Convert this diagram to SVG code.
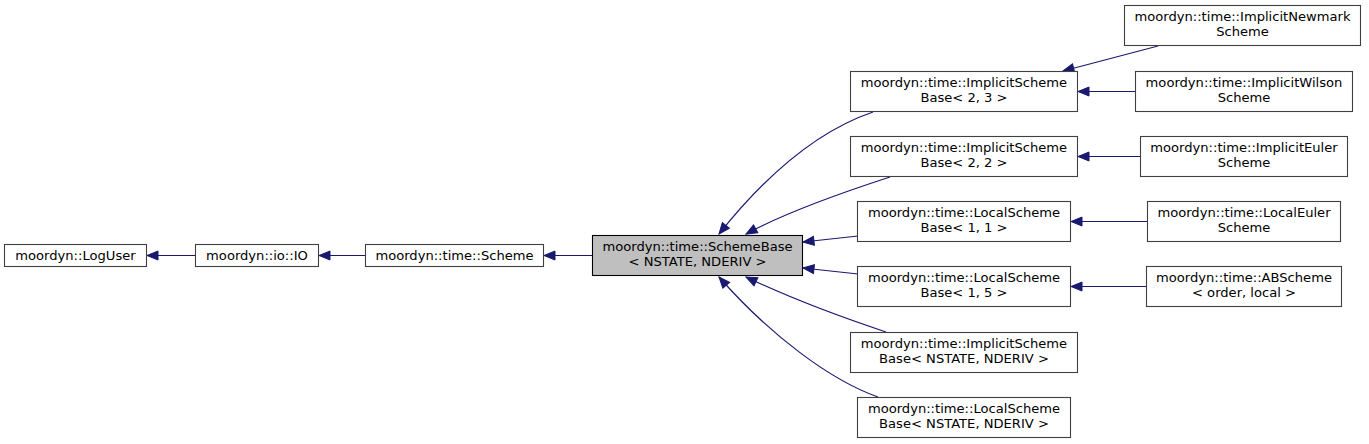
<svg xmlns="http://www.w3.org/2000/svg" width="1369" height="444" viewBox="0 0 1369 444">
<style>
.n rect{fill:#fff;stroke:#404040;stroke-width:1.1}
.n.main rect{fill:#bfbfbf;stroke:#000}
.n text{font-family:"DejaVu Sans","Liberation Sans",sans-serif;font-size:13.1px;fill:#000;text-anchor:middle}
#edges path{fill:none;stroke:#191970;stroke-width:1.2;marker-end:url(#ah)}
</style>
<defs>
<marker id="ah" markerUnits="userSpaceOnUse" markerWidth="14" markerHeight="12" refX="11" refY="5" orient="auto" overflow="visible">
<path d="M0,0.5 L11,5 L0,9.5 Z" fill="#191970" stroke="#191970" stroke-width="1"/>
</marker>
</defs>
<rect width="1369" height="444" fill="#fff"/>
<g id="edges">
<path d="M195,255.5 L147,255.5"/>
<path d="M365,255.5 L319,255.5"/>
<path d="M592,255.5 L544,255.5"/>
<path d="M873,112 C820,130 770,170 719,234"/>
<path d="M890,177 C850,190 790,210 746,234"/>
<path d="M858,236 L803,242"/>
<path d="M858,274 L803,268"/>
<path d="M886,332 C850,320 790,298 746,277"/>
<path d="M878,397 C830,380 770,335 719,277"/>
<path d="M1158,46 L1063,71"/>
<path d="M1135,91.5 L1078,91.5"/>
<path d="M1140,156.5 L1078,156.5"/>
<path d="M1147,221.5 L1071,221.5"/>
<path d="M1146,286.5 L1071,286.5"/>
</g>
<g id="node-loguser" class="n"><rect x="4.5" y="244.5" width="142" height="22"/><text x="75.5" y="260">moordyn::LogUser</text></g>
<g id="node-io" class="n"><rect x="195.5" y="244.5" width="123" height="22"/><text x="257" y="260">moordyn::io::IO</text></g>
<g id="node-scheme" class="n"><rect x="365.5" y="244.5" width="178" height="22"/><text x="454.5" y="260">moordyn::time::Scheme</text></g>
<g id="node-schemebase" class="n main"><rect x="592.5" y="235.5" width="210" height="40"/><text x="697.5" y="251">moordyn::time::SchemeBase</text><text x="697.5" y="266">&lt; NSTATE, NDERIV &gt;</text></g>
<g id="node-isb23" class="n"><rect x="850.5" y="71.5" width="227" height="40"/><text x="964" y="87">moordyn::time::ImplicitScheme</text><text x="964" y="102">Base&lt; 2, 3 &gt;</text></g>
<g id="node-isb22" class="n"><rect x="850.5" y="136.5" width="227" height="40"/><text x="964" y="152">moordyn::time::ImplicitScheme</text><text x="964" y="167">Base&lt; 2, 2 &gt;</text></g>
<g id="node-lsb11" class="n"><rect x="857.5" y="201.5" width="213" height="40"/><text x="964" y="217">moordyn::time::LocalScheme</text><text x="964" y="232">Base&lt; 1, 1 &gt;</text></g>
<g id="node-lsb15" class="n"><rect x="857.5" y="266.5" width="213" height="40"/><text x="964" y="282">moordyn::time::LocalScheme</text><text x="964" y="297">Base&lt; 1, 5 &gt;</text></g>
<g id="node-isbnn" class="n"><rect x="850.5" y="332.5" width="227" height="40"/><text x="964" y="348">moordyn::time::ImplicitScheme</text><text x="964" y="363">Base&lt; NSTATE, NDERIV &gt;</text></g>
<g id="node-lsbnn" class="n"><rect x="857.5" y="397.5" width="213" height="40"/><text x="964" y="413">moordyn::time::LocalScheme</text><text x="964" y="428">Base&lt; NSTATE, NDERIV &gt;</text></g>
<g id="node-newmark" class="n"><rect x="1124.5" y="5.5" width="236" height="40"/><text x="1242.5" y="21">moordyn::time::ImplicitNewmark</text><text x="1242.5" y="36">Scheme</text></g>
<g id="node-wilson" class="n"><rect x="1135.5" y="71.5" width="217" height="40"/><text x="1244" y="87">moordyn::time::ImplicitWilson</text><text x="1244" y="102">Scheme</text></g>
<g id="node-impleuler" class="n"><rect x="1140.5" y="136.5" width="207" height="40"/><text x="1244" y="152">moordyn::time::ImplicitEuler</text><text x="1244" y="167">Scheme</text></g>
<g id="node-localeuler" class="n"><rect x="1147.5" y="201.5" width="193" height="40"/><text x="1244" y="217">moordyn::time::LocalEuler</text><text x="1244" y="232">Scheme</text></g>
<g id="node-abscheme" class="n"><rect x="1146.5" y="266.5" width="195" height="40"/><text x="1244" y="282">moordyn::time::ABScheme</text><text x="1244" y="297">&lt; order, local &gt;</text></g>
</svg>
